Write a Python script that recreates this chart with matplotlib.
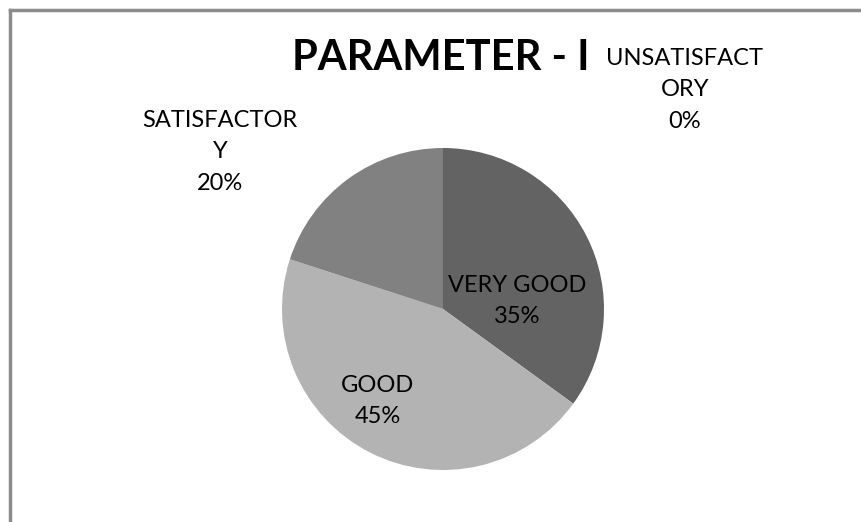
import matplotlib
matplotlib.use("Agg")
from matplotlib import pyplot as plt
from matplotlib.lines import Line2D

# data
categories = ["VERY GOOD", "GOOD", "SATISFACTORY", "UNSATISFACTORY"]
values = [35, 45, 20, 0]
# labels as wrapped in the original chart
label_names = ["VERY GOOD", "GOOD", "SATISFACTOR\nY", "UNSATISFACT\nORY"]
colors = ["#636363", "#b3b3b3", "#818181", "#4a4a4a"]

W, H = 862, 522
plt.rcParams['font.family'] = ['Lato', 'DejaVu Sans']

fig = plt.figure(figsize=(W / 100, H / 100), dpi=100)

# pie centre and radius in pixels
cx, cy, r = 443, 309, 161
ax = fig.add_axes([(cx - r) / W, (H - cy - r) / H, 2 * r / W, 2 * r / H])
ax.pie(values, colors=colors, startangle=90, counterclock=False,
       wedgeprops=dict(linewidth=0))
ax.set_xlim(-1, 1)
ax.set_ylim(-1, 1)
ax.set_aspect('equal')
ax.axis('off')

total = sum(values)
# label positions (pixels) as placed in the original
label_pos = [(517, 301), (378, 401), (220, 152), (685, 90)]
for name, v, (px, py) in zip(label_names, values, label_pos):
    txt = f"{name}\n{round(v / total * 100)}%"
    fig.text(px / W, 1 - py / H, txt, ha='center', va='center',
             fontsize=17, color='black', linespacing=1.62)

fig.text(441 / W, 1 - 58 / H, "PARAMETER - I", ha='center', va='center',
         fontsize=30, fontweight='bold')

# chart frame (left and top edges visible)
frame = dict(color='#8c8c8c', linewidth=2.5, transform=fig.transFigure)
fig.add_artist(Line2D([10.5 / W, 10.5 / W], [0, 1 - 9.5 / H], **frame))
fig.add_artist(Line2D([10.5 / W, 1], [1 - 9.5 / H, 1 - 9.5 / H], **frame))

fig.savefig("out.png", dpi=100)
